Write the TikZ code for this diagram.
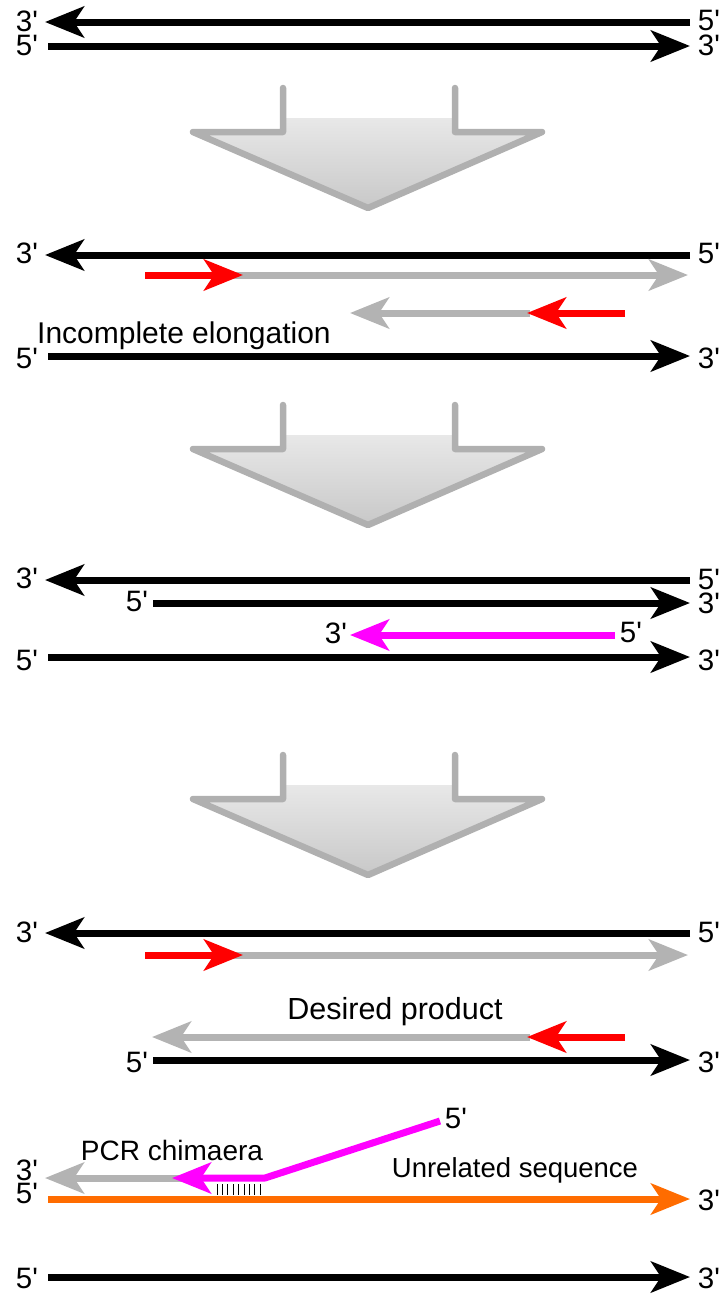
\documentclass[tikz,border=0pt]{standalone}
\usepackage{fontspec}
\newfontfamily\labfont{Liberation Sans}
\usetikzlibrary{arrows.meta}
\definecolor{sgray}{RGB}{179,179,179}
\definecolor{sred}{RGB}{255,0,0}
\definecolor{smag}{RGB}{255,0,255}
\definecolor{sorange}{RGB}{255,108,0}
\definecolor{bigedge}{RGB}{176,176,176}
\definecolor{bigtop}{RGB}{232,232,232}
\definecolor{bigbot}{RGB}{200,200,200}
\tikzset{
  strand/.style={line width=7pt, -{Stealth[length=39pt,width=31pt,inset=10pt]}},
  lbl/.style={font=\labfont\fontsize{29.5}{30}\selectfont, inner sep=0pt},
  txt/.style={font=\labfont\fontsize{#1}{#1}\selectfont, inner sep=0pt},
  bigedgestyle/.style={draw=bigedge, line width=6.5pt, line join=round, line cap=round},
}
\begin{document}
\begin{tikzpicture}[x=1pt,y=-1pt]
\useasboundingbox (0,0) rectangle (723,1294);

% big process arrows
\foreach \dy in {0,317,667}{
  \begin{scope}[yshift=-\dy pt]
    \shade[top color=bigtop, bottom color=bigbot]
      (283,118) -- (455,118) -- (455,132) -- (542,132) -- (368,208) -- (193,132) -- (283,132) -- cycle;
    \draw[bigedgestyle] (283,88) -- (283,132) -- (193,132) -- (368,208) -- (542,132) -- (455,132) -- (455,88);
  \end{scope}
}

% ---------- Row 1 ----------
\coordinate (r1aR) at (690,22); \coordinate (r1aL) at (45,22);
\coordinate (r1bL) at (48,46);  \coordinate (r1bR) at (690,46);
\draw[strand] (r1aR) -- (r1aL);
\draw[strand] (r1bL) -- (r1bR);
\node[lbl] (l1a) at (27,21) {3'};
\node[lbl] (l1b) at (27,45) {5'};
\node[lbl] (r1a) at (709,20) {5'};
\node[lbl] (r1b) at (709,45) {3'};

% ---------- Row 2 ----------
\coordinate (r2aR) at (690,255); \coordinate (r2aL) at (45,255);
\draw[strand] (r2aR) -- (r2aL);
\node[lbl] (l2a) at (27,253) {3'};
\node[lbl] (r2a) at (709,253) {5'};
\coordinate (g2s) at (215,275); \coordinate (g2e) at (688,275);
\coordinate (p2s) at (145,275); \coordinate (p2e) at (243,275);
\draw[strand, sgray] (g2s) -- (g2e);
\draw[strand, sred] (p2s) -- (p2e);

% ---------- Row 3 ----------
\coordinate (g3s) at (530,313); \coordinate (g3e) at (350,313);
\coordinate (p3s) at (625,313); \coordinate (p3e) at (527,313);
\draw[strand, sgray] (g3s) -- (g3e);
\draw[strand, sred] (p3s) -- (p3e);
\node[txt=30, anchor=base west] (t3) at (37,343) {Incomplete elongation};
\coordinate (r3bL) at (48,356); \coordinate (r3bR) at (690,356);
\draw[strand] (r3bL) -- (r3bR);
\node[lbl] (l3b) at (27,358) {5'};
\node[lbl] (r3b) at (709,358) {3'};

% ---------- Row 4 ----------
\coordinate (r4aR) at (690,580); \coordinate (r4aL) at (45,580);
\draw[strand] (r4aR) -- (r4aL);
\node[lbl] (l4a) at (27,578) {3'};
\node[lbl] (r4a) at (709,579) {5'};
\coordinate (r4bL) at (153,603); \coordinate (r4bR) at (690,603);
\draw[strand] (r4bL) -- (r4bR);
\node[lbl] (l4b) at (137,601) {5'};
\node[lbl] (r4b) at (709,603) {3'};

% ---------- Row 5 ----------
\coordinate (m5s) at (615,635); \coordinate (m5e) at (350,635);
\draw[strand, smag] (m5s) -- (m5e);
\node[lbl] (m5l) at (336,633) {3'};
\node[lbl] (m5r) at (631,632) {5'};
\coordinate (r5bL) at (48,657); \coordinate (r5bR) at (690,657);
\draw[strand] (r5bL) -- (r5bR);
\node[lbl] (l5b) at (27,660) {5'};
\node[lbl] (r5b) at (709,660) {3'};

% ---------- Row 6 ----------
\coordinate (r6aR) at (690,933); \coordinate (r6aL) at (45,933);
\draw[strand] (r6aR) -- (r6aL);
\node[lbl] (l6a) at (27,932) {3'};
\node[lbl] (r6a) at (709,932) {5'};
\coordinate (g6s) at (215,955); \coordinate (g6e) at (688,955);
\coordinate (p6s) at (145,955); \coordinate (p6e) at (243,955);
\draw[strand, sgray] (g6s) -- (g6e);
\draw[strand, sred] (p6s) -- (p6e);

% ---------- Row 7 ----------
\node[txt=30.5] (t7) at (395,1012) {Desired product};
\coordinate (g7s) at (530,1037); \coordinate (g7e) at (152,1037);
\coordinate (p7s) at (625,1037); \coordinate (p7e) at (527,1037);
\draw[strand, sgray] (g7s) -- (g7e);
\draw[strand, sred] (p7s) -- (p7e);
\coordinate (r7bL) at (153,1060); \coordinate (r7bR) at (690,1060);
\draw[strand] (r7bL) -- (r7bR);
\node[lbl] (l7b) at (137,1062) {5'};
\node[lbl] (r7b) at (709,1062) {3'};

% ---------- Chimaera ----------
\node[txt=28] (tc) at (172,1150) {PCR chimaera};
\node[txt=27.5] (tu) at (515,1170) {Unrelated sequence};
\coordinate (gcs) at (185,1178); \coordinate (gce) at (45,1178);
\draw[strand, sgray] (gcs) -- (gce);
\coordinate (mcs) at (440,1121); \coordinate (mck) at (265,1178); \coordinate (mce) at (172,1178);
\draw[strand, smag, line join=round] (mcs) -- (mck) -- (mce);
\node[lbl] (mcl) at (456,1118) {5'};
\foreach \i in {0,...,8}{
  \draw[line width=1pt] ({217+\i*5.4},1184) -- ({217+\i*5.4},1195);
}
\coordinate (ocL) at (48,1199); \coordinate (ocR) at (690,1199);
\draw[strand, sorange] (ocL) -- (ocR);
\node[lbl] (lca) at (27,1170) {3'};
\node[lbl] (lcb) at (27,1193) {5'};
\node[lbl] (rcb) at (709,1200) {3'};

% ---------- Last row ----------
\coordinate (r8L) at (48,1277); \coordinate (r8R) at (690,1277);
\draw[strand] (r8L) -- (r8R);
\node[lbl] (l8) at (27,1278) {5'};
\node[lbl] (r8) at (709,1278) {3'};
\end{tikzpicture}
\end{document}
